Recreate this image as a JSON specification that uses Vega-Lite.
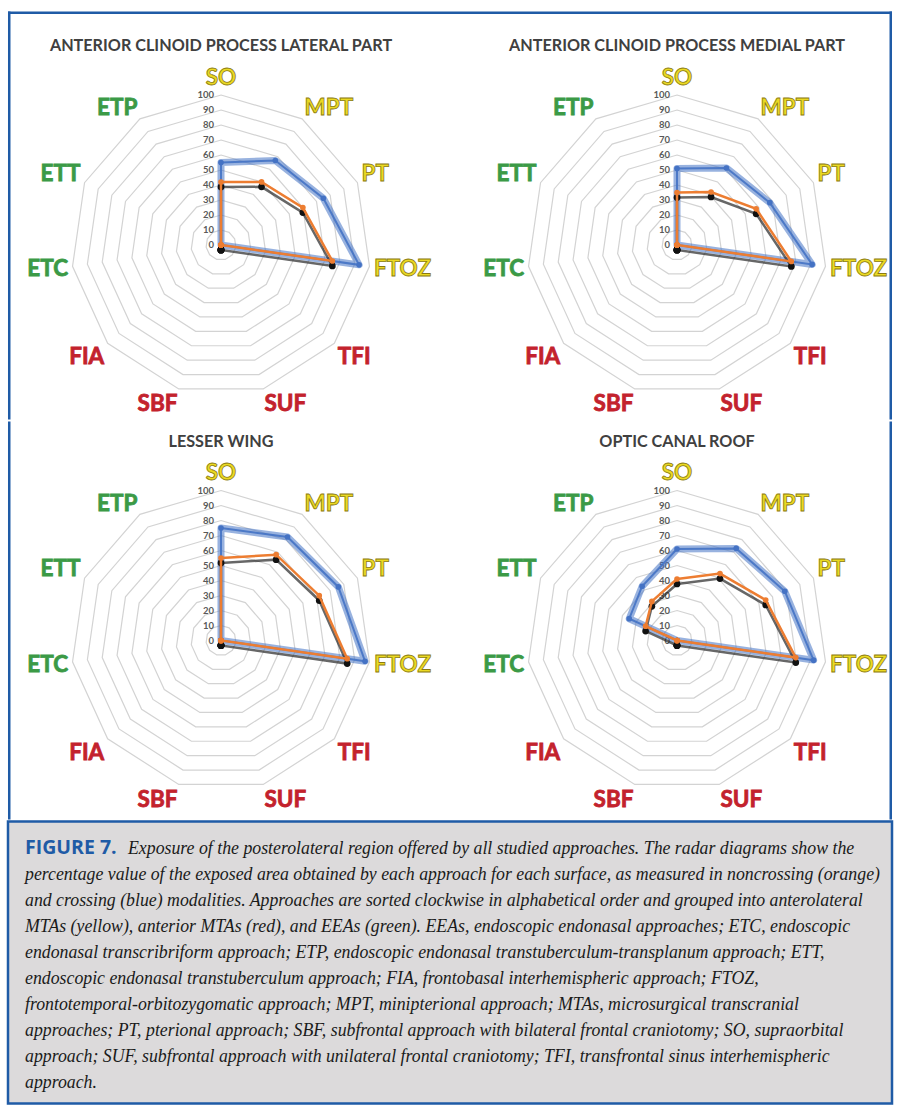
{
"$schema": "https://vega.github.io/schema/vega-lite/v6.json",
"padding": {"left": 6, "top": 9.5, "right": 1, "bottom": 0},
"background": "white",
"spacing": -5,
"config": {"view": {"stroke": null}},
"datasets": {
 "vals": [
  {"p":"L","c":"SO","nc":42,"cr":55},{"p":"L","c":"MPT","nc":50,"cr":67},{"p":"L","c":"PT","nc":60,"cr":75},{"p":"L","c":"FTOZ","nc":75,"cr":93},{"p":"L","c":"TFI","nc":0,"cr":0},{"p":"L","c":"SUF","nc":0,"cr":0},{"p":"L","c":"SBF","nc":0,"cr":0},{"p":"L","c":"FIA","nc":0,"cr":0},{"p":"L","c":"ETC","nc":0,"cr":0},{"p":"L","c":"ETT","nc":0,"cr":0},{"p":"L","c":"ETP","nc":0,"cr":0},
  {"p":"M","c":"SO","nc":35,"cr":51},{"p":"M","c":"MPT","nc":42,"cr":61},{"p":"M","c":"PT","nc":58,"cr":68},{"p":"M","c":"FTOZ","nc":77,"cr":91},{"p":"M","c":"TFI","nc":0,"cr":0},{"p":"M","c":"SUF","nc":0,"cr":0},{"p":"M","c":"SBF","nc":0,"cr":0},{"p":"M","c":"FIA","nc":0,"cr":0},{"p":"M","c":"ETC","nc":0,"cr":0},{"p":"M","c":"ETT","nc":0,"cr":0},{"p":"M","c":"ETP","nc":0,"cr":0},
  {"p":"W","c":"SO","nc":55,"cr":75},{"p":"W","c":"MPT","nc":68,"cr":82},{"p":"W","c":"PT","nc":72,"cr":86},{"p":"W","c":"FTOZ","nc":85,"cr":97},{"p":"W","c":"TFI","nc":0,"cr":0},{"p":"W","c":"SUF","nc":0,"cr":0},{"p":"W","c":"SBF","nc":0,"cr":0},{"p":"W","c":"FIA","nc":0,"cr":0},{"p":"W","c":"ETC","nc":0,"cr":0},{"p":"W","c":"ETT","nc":0,"cr":0},{"p":"W","c":"ETP","nc":0,"cr":0},
  {"p":"O","c":"SO","nc":41,"cr":61},{"p":"O","c":"MPT","nc":53,"cr":73},{"p":"O","c":"PT","nc":65,"cr":79},{"p":"O","c":"FTOZ","nc":80,"cr":92},{"p":"O","c":"TFI","nc":0,"cr":0},{"p":"O","c":"SUF","nc":0,"cr":0},{"p":"O","c":"SBF","nc":0,"cr":0},{"p":"O","c":"FIA","nc":0,"cr":0},{"p":"O","c":"ETC","nc":0,"cr":0},{"p":"O","c":"ETT","nc":23,"cr":35},{"p":"O","c":"ETP","nc":31,"cr":43}
 ],
 "cats": [
  {"c":"SO","g":"y"},{"c":"MPT","g":"y"},{"c":"PT","g":"y"},{"c":"FTOZ","g":"y"},{"c":"TFI","g":"r"},{"c":"SUF","g":"r"},{"c":"SBF","g":"r"},{"c":"FIA","g":"r"},{"c":"ETC","g":"g"},{"c":"ETT","g":"g"},{"c":"ETP","g":"g"}
 ],
 "grid": [
  {"lvl":10,"k":[0,1,2,3,4,5,6,7,8,9,10]},{"lvl":20,"k":[0,1,2,3,4,5,6,7,8,9,10]},{"lvl":30,"k":[0,1,2,3,4,5,6,7,8,9,10]},{"lvl":40,"k":[0,1,2,3,4,5,6,7,8,9,10]},{"lvl":50,"k":[0,1,2,3,4,5,6,7,8,9,10]},{"lvl":60,"k":[0,1,2,3,4,5,6,7,8,9,10]},{"lvl":70,"k":[0,1,2,3,4,5,6,7,8,9,10]},{"lvl":80,"k":[0,1,2,3,4,5,6,7,8,9,10]},{"lvl":90,"k":[0,1,2,3,4,5,6,7,8,9,10]},{"lvl":100,"k":[0,1,2,3,4,5,6,7,8,9,10]}
 ],
 "ticks": [{"t":0},{"t":10},{"t":20},{"t":30},{"t":40},{"t":50},{"t":60},{"t":70},{"t":80},{"t":90},{"t":100}],
 "titles": [
  {"p":"L","t":"ANTERIOR CLINOID PROCESS LATERAL PART"},
  {"p":"M","t":"ANTERIOR CLINOID PROCESS MEDIAL PART"},
  {"p":"W","t":"LESSER WING"},
  {"p":"O","t":"OPTIC CANAL ROOF"}
 ],
 "frame": [{"f":1}],
 "cap": [
  {"k":"f","ln":1,"t":"FIGURE 7."},
  {"k":"a","ln":1,"t":"Exposure of the posterolateral region offered by all studied approaches. The radar diagrams show the"},
  {"k":"b","ln":2,"t":"percentage value of the exposed area obtained by each approach for each surface, as measured in noncrossing (orange)"},
  {"k":"b","ln":3,"t":"and crossing (blue) modalities. Approaches are sorted clockwise in alphabetical order and grouped into anterolateral"},
  {"k":"b","ln":4,"t":"MTAs (yellow), anterior MTAs (red), and EEAs (green). EEAs, endoscopic endonasal approaches; ETC, endoscopic"},
  {"k":"b","ln":5,"t":"endonasal transcribriform approach; ETP, endoscopic endonasal transtuberculum-transplanum approach; ETT,"},
  {"k":"b","ln":6,"t":"endoscopic endonasal transtuberculum approach; FIA, frontobasal interhemispheric approach; FTOZ,"},
  {"k":"b","ln":7,"t":"frontotemporal-orbitozygomatic approach; MPT, minipterional approach; MTAs, microsurgical transcranial"},
  {"k":"b","ln":8,"t":"approaches; PT, pterional approach; SBF, subfrontal approach with bilateral frontal craniotomy; SO, supraorbital"},
  {"k":"b","ln":9,"t":"approach; SUF, subfrontal approach with unilateral frontal craniotomy; TFI, transfrontal sinus interhemispheric"},
  {"k":"b","ln":10,"t":"approach."}
 ]
},
"vconcat": [
 {"hconcat": [
  {"width": 442, "height": 408,
   "layer": [
    {"data":{"name":"grid"},"transform":[{"flatten":["k"]},{"calculate":"datum.lvl*sin(datum.k*2*PI/11)","as":"x"},{"calculate":"datum.lvl*cos(datum.k*2*PI/11)","as":"y"}],
     "mark":{"type":"line","interpolate":"linear-closed","stroke":"#d3d3d3","strokeWidth":1.2},
     "encoding":{"x":{"field":"x","type":"quantitative","scale":{"domain":[-142,152.67],"nice":false,"zero":false},"axis":null},"y":{"field":"y","type":"quantitative","scale":{"domain":[-116.33,155.67],"nice":false,"zero":false},"axis":null},"detail":{"field":"lvl"},"order":{"field":"k","type":"quantitative"}}},
    {"data":{"name":"ticks"},"mark":{"type":"text","align":"right","baseline":"middle","dx":-7,"font":"Lato","fontWeight":"bold","fontSize":9.5,"fill":"#595959"},
     "encoding":{"x":{"datum":0,"type":"quantitative","scale":{"domain":[-142,152.67],"nice":false,"zero":false},"axis":null},"y":{"field":"t","type":"quantitative","scale":{"domain":[-116.33,155.67],"nice":false,"zero":false},"axis":null},"text":{"field":"t"}}},
    {"data":{"name":"vals"},
     "transform":[{"filter":"datum.p==='L'"},{"fold":["cr","nc"],"as":["s","v"]},{"calculate":"indexof(['SO','MPT','PT','FTOZ','TFI','SUF','SBF','FIA','ETC','ETT','ETP'],datum.c)","as":"i"},{"calculate":"datum.v*sin(datum.i*2*PI/11)","as":"x"},{"calculate":"datum.v*cos(datum.i*2*PI/11)","as":"y"},{"calculate":"datum.y-3.3","as":"ys"}],
     "encoding":{"x":{"field":"x","type":"quantitative","scale":{"domain":[-142,152.67],"nice":false,"zero":false},"axis":null},"y":{"field":"y","type":"quantitative","scale":{"domain":[-116.33,155.67],"nice":false,"zero":false},"axis":null},"order":{"field":"i","type":"quantitative"}},
     "layer":[
      {"transform":[{"filter":"datum.s==='cr'"}],"mark":{"type":"line","interpolate":"linear-closed","stroke":"#4472c4","strokeWidth":7,"strokeOpacity":0.55,"strokeJoin":"round"}},
      {"transform":[{"filter":"datum.s==='cr'"}],"mark":{"type":"line","interpolate":"linear-closed","stroke":"#4472c4","strokeWidth":2,"strokeOpacity":0.9}},
      {"transform":[{"filter":"datum.s==='cr'"}],"mark":{"type":"point","filled":true,"color":"#4472c4","size":32,"opacity":1}},
      {"transform":[{"filter":"datum.s==='nc'"}],"mark":{"type":"line","interpolate":"linear-closed","stroke":"#262626","strokeWidth":2.5,"strokeOpacity":0.7},"encoding":{"y":{"field":"ys","type":"quantitative","scale":{"domain":[-116.33,155.67],"nice":false,"zero":false},"axis":null}}},
      {"transform":[{"filter":"datum.s==='nc'"}],"mark":{"type":"point","filled":true,"color":"#111111","size":45,"opacity":1},"encoding":{"y":{"field":"ys","type":"quantitative","scale":{"domain":[-116.33,155.67],"nice":false,"zero":false},"axis":null}}},
      {"transform":[{"filter":"datum.s==='nc'"}],"mark":{"type":"line","interpolate":"linear-closed","stroke":"#ed7d31","strokeWidth":2.5}},
      {"transform":[{"filter":"datum.s==='nc'"}],"mark":{"type":"point","filled":true,"color":"#ed7d31","size":32,"opacity":1}}
     ]},
    {"data":{"name":"cats"},"transform":[{"calculate":"indexof(['SO','MPT','PT','FTOZ','TFI','SUF','SBF','FIA','ETC','ETT','ETP'],datum.c)","as":"i"},{"calculate":"103*sin(datum.i*2*PI/11)","as":"x"},{"calculate":"103*cos(datum.i*2*PI/11)","as":"y"}],
     "encoding":{"x":{"field":"x","type":"quantitative","scale":{"domain":[-142,152.67],"nice":false,"zero":false},"axis":null},"y":{"field":"y","type":"quantitative","scale":{"domain":[-116.33,155.67],"nice":false,"zero":false},"axis":null},"text":{"field":"c"},
      "color":{"field":"g","type":"nominal","scale":{"domain":["y","r","g"],"range":["#ebd923","#c3222d","#3b9a46"]},"legend":null},
      "stroke":{"field":"g","type":"nominal","scale":{"domain":["y","r","g"],"range":["#8a7a10","#c3222d","#3b9a46"]},"legend":null}},
     "layer":[
      {"transform":[{"filter":"datum.i==0"}],"mark":{"type":"text","align":"center","baseline":"alphabetic","dy":-6,"font":"Lato","fontWeight":"bold","fontSize":22.5,"strokeWidth":0.8}},
      {"transform":[{"filter":"datum.i==1||datum.i==2"}],"mark":{"type":"text","align":"left","baseline":"alphabetic","font":"Lato","fontWeight":"bold","fontSize":22.5,"strokeWidth":0.8}},
      {"transform":[{"filter":"datum.i==3"}],"mark":{"type":"text","align":"left","baseline":"middle","dy":2.5,"font":"Lato","fontWeight":"bold","fontSize":22.5,"strokeWidth":0.8}},
      {"transform":[{"filter":"datum.i==4||datum.i==5"}],"mark":{"type":"text","align":"left","baseline":"top","font":"Lato","fontWeight":"bold","fontSize":22.5,"strokeWidth":0.8}},
      {"transform":[{"filter":"datum.i==6||datum.i==7"}],"mark":{"type":"text","align":"right","baseline":"top","font":"Lato","fontWeight":"bold","fontSize":22.5,"strokeWidth":0.8}},
      {"transform":[{"filter":"datum.i==8"}],"mark":{"type":"text","align":"right","baseline":"middle","dy":2.5,"font":"Lato","fontWeight":"bold","fontSize":22.5,"strokeWidth":0.8}},
      {"transform":[{"filter":"datum.i==9||datum.i==10"}],"mark":{"type":"text","align":"right","baseline":"alphabetic","font":"Lato","fontWeight":"bold","fontSize":22.5,"strokeWidth":0.8}}
     ]},
    {"data":{"name":"titles"},"transform":[{"filter":"datum.p==='L'"}],"mark":{"type":"text","align":"center","baseline":"middle","font":"Lato","fontWeight":"bold","fontSize":16.2,"fill":"#404040"},
     "encoding":{"x":{"datum":0,"type":"quantitative","scale":{"domain":[-142,152.67],"nice":false,"zero":false},"axis":null},"y":{"datum":132.5,"type":"quantitative","scale":{"domain":[-116.33,155.67],"nice":false,"zero":false},"axis":null},"text":{"field":"t"}}},
    {"data":{"name":"frame"},"mark":{"type":"rule","stroke":"#1f5ba6","strokeWidth":2.5},"encoding":{"x":{"datum":-141.17,"type":"quantitative","scale":{"domain":[-142,152.67],"nice":false,"zero":false},"axis":null}}},
    {"data":{"name":"frame"},"mark":{"type":"rule","stroke":"#1f5ba6","strokeWidth":2.5},"encoding":{"y":{"datum":154.84,"type":"quantitative","scale":{"domain":[-116.33,155.67],"nice":false,"zero":false},"axis":null}}}
   ]},
  {"width": 442, "height": 408,
   "layer": [
    {"data":{"name":"grid"},"transform":[{"flatten":["k"]},{"calculate":"datum.lvl*sin(datum.k*2*PI/11)","as":"x"},{"calculate":"datum.lvl*cos(datum.k*2*PI/11)","as":"y"}],
     "mark":{"type":"line","interpolate":"linear-closed","stroke":"#d3d3d3","strokeWidth":1.2},
     "encoding":{"x":{"field":"x","type":"quantitative","scale":{"domain":[-151.33,143.33],"nice":false,"zero":false},"axis":null},"y":{"field":"y","type":"quantitative","scale":{"domain":[-116.33,155.67],"nice":false,"zero":false},"axis":null},"detail":{"field":"lvl"},"order":{"field":"k","type":"quantitative"}}},
    {"data":{"name":"ticks"},"mark":{"type":"text","align":"right","baseline":"middle","dx":-7,"font":"Lato","fontWeight":"bold","fontSize":9.5,"fill":"#595959"},
     "encoding":{"x":{"datum":0,"type":"quantitative","scale":{"domain":[-151.33,143.33],"nice":false,"zero":false},"axis":null},"y":{"field":"t","type":"quantitative","scale":{"domain":[-116.33,155.67],"nice":false,"zero":false},"axis":null},"text":{"field":"t"}}},
    {"data":{"name":"vals"},
     "transform":[{"filter":"datum.p==='M'"},{"fold":["cr","nc"],"as":["s","v"]},{"calculate":"indexof(['SO','MPT','PT','FTOZ','TFI','SUF','SBF','FIA','ETC','ETT','ETP'],datum.c)","as":"i"},{"calculate":"datum.v*sin(datum.i*2*PI/11)","as":"x"},{"calculate":"datum.v*cos(datum.i*2*PI/11)","as":"y"},{"calculate":"datum.y-3.3","as":"ys"}],
     "encoding":{"x":{"field":"x","type":"quantitative","scale":{"domain":[-151.33,143.33],"nice":false,"zero":false},"axis":null},"y":{"field":"y","type":"quantitative","scale":{"domain":[-116.33,155.67],"nice":false,"zero":false},"axis":null},"order":{"field":"i","type":"quantitative"}},
     "layer":[
      {"transform":[{"filter":"datum.s==='cr'"}],"mark":{"type":"line","interpolate":"linear-closed","stroke":"#4472c4","strokeWidth":7,"strokeOpacity":0.55,"strokeJoin":"round"}},
      {"transform":[{"filter":"datum.s==='cr'"}],"mark":{"type":"line","interpolate":"linear-closed","stroke":"#4472c4","strokeWidth":2,"strokeOpacity":0.9}},
      {"transform":[{"filter":"datum.s==='cr'"}],"mark":{"type":"point","filled":true,"color":"#4472c4","size":32,"opacity":1}},
      {"transform":[{"filter":"datum.s==='nc'"}],"mark":{"type":"line","interpolate":"linear-closed","stroke":"#262626","strokeWidth":2.5,"strokeOpacity":0.7},"encoding":{"y":{"field":"ys","type":"quantitative","scale":{"domain":[-116.33,155.67],"nice":false,"zero":false},"axis":null}}},
      {"transform":[{"filter":"datum.s==='nc'"}],"mark":{"type":"point","filled":true,"color":"#111111","size":45,"opacity":1},"encoding":{"y":{"field":"ys","type":"quantitative","scale":{"domain":[-116.33,155.67],"nice":false,"zero":false},"axis":null}}},
      {"transform":[{"filter":"datum.s==='nc'"}],"mark":{"type":"line","interpolate":"linear-closed","stroke":"#ed7d31","strokeWidth":2.5}},
      {"transform":[{"filter":"datum.s==='nc'"}],"mark":{"type":"point","filled":true,"color":"#ed7d31","size":32,"opacity":1}}
     ]},
    {"data":{"name":"cats"},"transform":[{"calculate":"indexof(['SO','MPT','PT','FTOZ','TFI','SUF','SBF','FIA','ETC','ETT','ETP'],datum.c)","as":"i"},{"calculate":"103*sin(datum.i*2*PI/11)","as":"x"},{"calculate":"103*cos(datum.i*2*PI/11)","as":"y"}],
     "encoding":{"x":{"field":"x","type":"quantitative","scale":{"domain":[-151.33,143.33],"nice":false,"zero":false},"axis":null},"y":{"field":"y","type":"quantitative","scale":{"domain":[-116.33,155.67],"nice":false,"zero":false},"axis":null},"text":{"field":"c"},
      "color":{"field":"g","type":"nominal","scale":{"domain":["y","r","g"],"range":["#ebd923","#c3222d","#3b9a46"]},"legend":null},
      "stroke":{"field":"g","type":"nominal","scale":{"domain":["y","r","g"],"range":["#8a7a10","#c3222d","#3b9a46"]},"legend":null}},
     "layer":[
      {"transform":[{"filter":"datum.i==0"}],"mark":{"type":"text","align":"center","baseline":"alphabetic","dy":-6,"font":"Lato","fontWeight":"bold","fontSize":22.5,"strokeWidth":0.8}},
      {"transform":[{"filter":"datum.i==1||datum.i==2"}],"mark":{"type":"text","align":"left","baseline":"alphabetic","font":"Lato","fontWeight":"bold","fontSize":22.5,"strokeWidth":0.8}},
      {"transform":[{"filter":"datum.i==3"}],"mark":{"type":"text","align":"left","baseline":"middle","dy":2.5,"font":"Lato","fontWeight":"bold","fontSize":22.5,"strokeWidth":0.8}},
      {"transform":[{"filter":"datum.i==4||datum.i==5"}],"mark":{"type":"text","align":"left","baseline":"top","font":"Lato","fontWeight":"bold","fontSize":22.5,"strokeWidth":0.8}},
      {"transform":[{"filter":"datum.i==6||datum.i==7"}],"mark":{"type":"text","align":"right","baseline":"top","font":"Lato","fontWeight":"bold","fontSize":22.5,"strokeWidth":0.8}},
      {"transform":[{"filter":"datum.i==8"}],"mark":{"type":"text","align":"right","baseline":"middle","dy":2.5,"font":"Lato","fontWeight":"bold","fontSize":22.5,"strokeWidth":0.8}},
      {"transform":[{"filter":"datum.i==9||datum.i==10"}],"mark":{"type":"text","align":"right","baseline":"alphabetic","font":"Lato","fontWeight":"bold","fontSize":22.5,"strokeWidth":0.8}}
     ]},
    {"data":{"name":"titles"},"transform":[{"filter":"datum.p==='M'"}],"mark":{"type":"text","align":"center","baseline":"middle","font":"Lato","fontWeight":"bold","fontSize":16.2,"fill":"#404040"},
     "encoding":{"x":{"datum":0,"type":"quantitative","scale":{"domain":[-151.33,143.33],"nice":false,"zero":false},"axis":null},"y":{"datum":132.5,"type":"quantitative","scale":{"domain":[-116.33,155.67],"nice":false,"zero":false},"axis":null},"text":{"field":"t"}}},
    {"data":{"name":"frame"},"mark":{"type":"rule","stroke":"#1f5ba6","strokeWidth":2.5},"encoding":{"x":{"datum":142.5,"type":"quantitative","scale":{"domain":[-151.33,143.33],"nice":false,"zero":false},"axis":null}}},
    {"data":{"name":"frame"},"mark":{"type":"rule","stroke":"#1f5ba6","strokeWidth":2.5},"encoding":{"y":{"datum":154.84,"type":"quantitative","scale":{"domain":[-116.33,155.67],"nice":false,"zero":false},"axis":null}}}
   ]}
 ], "bounds": "flush", "spacing": 0},
 {"hconcat": [
  {"width": 442, "height": 398,
   "layer": [
    {"data":{"name":"grid"},"transform":[{"flatten":["k"]},{"calculate":"datum.lvl*sin(datum.k*2*PI/11)","as":"x"},{"calculate":"datum.lvl*cos(datum.k*2*PI/11)","as":"y"}],
     "mark":{"type":"line","interpolate":"linear-closed","stroke":"#d3d3d3","strokeWidth":1.2},
     "encoding":{"x":{"field":"x","type":"quantitative","scale":{"domain":[-142,152.67],"nice":false,"zero":false},"axis":null},"y":{"field":"y","type":"quantitative","scale":{"domain":[-119.33,146],"nice":false,"zero":false},"axis":null},"detail":{"field":"lvl"},"order":{"field":"k","type":"quantitative"}}},
    {"data":{"name":"ticks"},"mark":{"type":"text","align":"right","baseline":"middle","dx":-7,"font":"Lato","fontWeight":"bold","fontSize":9.5,"fill":"#595959"},
     "encoding":{"x":{"datum":0,"type":"quantitative","scale":{"domain":[-142,152.67],"nice":false,"zero":false},"axis":null},"y":{"field":"t","type":"quantitative","scale":{"domain":[-119.33,146],"nice":false,"zero":false},"axis":null},"text":{"field":"t"}}},
    {"data":{"name":"vals"},
     "transform":[{"filter":"datum.p==='W'"},{"fold":["cr","nc"],"as":["s","v"]},{"calculate":"indexof(['SO','MPT','PT','FTOZ','TFI','SUF','SBF','FIA','ETC','ETT','ETP'],datum.c)","as":"i"},{"calculate":"datum.v*sin(datum.i*2*PI/11)","as":"x"},{"calculate":"datum.v*cos(datum.i*2*PI/11)","as":"y"},{"calculate":"datum.y-3.3","as":"ys"}],
     "encoding":{"x":{"field":"x","type":"quantitative","scale":{"domain":[-142,152.67],"nice":false,"zero":false},"axis":null},"y":{"field":"y","type":"quantitative","scale":{"domain":[-119.33,146],"nice":false,"zero":false},"axis":null},"order":{"field":"i","type":"quantitative"}},
     "layer":[
      {"transform":[{"filter":"datum.s==='cr'"}],"mark":{"type":"line","interpolate":"linear-closed","stroke":"#4472c4","strokeWidth":7,"strokeOpacity":0.55,"strokeJoin":"round"}},
      {"transform":[{"filter":"datum.s==='cr'"}],"mark":{"type":"line","interpolate":"linear-closed","stroke":"#4472c4","strokeWidth":2,"strokeOpacity":0.9}},
      {"transform":[{"filter":"datum.s==='cr'"}],"mark":{"type":"point","filled":true,"color":"#4472c4","size":32,"opacity":1}},
      {"transform":[{"filter":"datum.s==='nc'"}],"mark":{"type":"line","interpolate":"linear-closed","stroke":"#262626","strokeWidth":2.5,"strokeOpacity":0.7},"encoding":{"y":{"field":"ys","type":"quantitative","scale":{"domain":[-119.33,146],"nice":false,"zero":false},"axis":null}}},
      {"transform":[{"filter":"datum.s==='nc'"}],"mark":{"type":"point","filled":true,"color":"#111111","size":45,"opacity":1},"encoding":{"y":{"field":"ys","type":"quantitative","scale":{"domain":[-119.33,146],"nice":false,"zero":false},"axis":null}}},
      {"transform":[{"filter":"datum.s==='nc'"}],"mark":{"type":"line","interpolate":"linear-closed","stroke":"#ed7d31","strokeWidth":2.5}},
      {"transform":[{"filter":"datum.s==='nc'"}],"mark":{"type":"point","filled":true,"color":"#ed7d31","size":32,"opacity":1}}
     ]},
    {"data":{"name":"cats"},"transform":[{"calculate":"indexof(['SO','MPT','PT','FTOZ','TFI','SUF','SBF','FIA','ETC','ETT','ETP'],datum.c)","as":"i"},{"calculate":"103*sin(datum.i*2*PI/11)","as":"x"},{"calculate":"103*cos(datum.i*2*PI/11)","as":"y"}],
     "encoding":{"x":{"field":"x","type":"quantitative","scale":{"domain":[-142,152.67],"nice":false,"zero":false},"axis":null},"y":{"field":"y","type":"quantitative","scale":{"domain":[-119.33,146],"nice":false,"zero":false},"axis":null},"text":{"field":"c"},
      "color":{"field":"g","type":"nominal","scale":{"domain":["y","r","g"],"range":["#ebd923","#c3222d","#3b9a46"]},"legend":null},
      "stroke":{"field":"g","type":"nominal","scale":{"domain":["y","r","g"],"range":["#8a7a10","#c3222d","#3b9a46"]},"legend":null}},
     "layer":[
      {"transform":[{"filter":"datum.i==0"}],"mark":{"type":"text","align":"center","baseline":"alphabetic","dy":-6,"font":"Lato","fontWeight":"bold","fontSize":22.5,"strokeWidth":0.8}},
      {"transform":[{"filter":"datum.i==1||datum.i==2"}],"mark":{"type":"text","align":"left","baseline":"alphabetic","font":"Lato","fontWeight":"bold","fontSize":22.5,"strokeWidth":0.8}},
      {"transform":[{"filter":"datum.i==3"}],"mark":{"type":"text","align":"left","baseline":"middle","dy":2.5,"font":"Lato","fontWeight":"bold","fontSize":22.5,"strokeWidth":0.8}},
      {"transform":[{"filter":"datum.i==4||datum.i==5"}],"mark":{"type":"text","align":"left","baseline":"top","font":"Lato","fontWeight":"bold","fontSize":22.5,"strokeWidth":0.8}},
      {"transform":[{"filter":"datum.i==6||datum.i==7"}],"mark":{"type":"text","align":"right","baseline":"top","font":"Lato","fontWeight":"bold","fontSize":22.5,"strokeWidth":0.8}},
      {"transform":[{"filter":"datum.i==8"}],"mark":{"type":"text","align":"right","baseline":"middle","dy":2.5,"font":"Lato","fontWeight":"bold","fontSize":22.5,"strokeWidth":0.8}},
      {"transform":[{"filter":"datum.i==9||datum.i==10"}],"mark":{"type":"text","align":"right","baseline":"alphabetic","font":"Lato","fontWeight":"bold","fontSize":22.5,"strokeWidth":0.8}}
     ]},
    {"data":{"name":"titles"},"transform":[{"filter":"datum.p==='W'"}],"mark":{"type":"text","align":"center","baseline":"middle","font":"Lato","fontWeight":"bold","fontSize":16.2,"fill":"#404040"},
     "encoding":{"x":{"datum":0,"type":"quantitative","scale":{"domain":[-142,152.67],"nice":false,"zero":false},"axis":null},"y":{"datum":132.5,"type":"quantitative","scale":{"domain":[-119.33,146],"nice":false,"zero":false},"axis":null},"text":{"field":"t"}}},
    {"data":{"name":"frame"},"mark":{"type":"rule","stroke":"#1f5ba6","strokeWidth":2.5},"encoding":{"x":{"datum":-141.17,"type":"quantitative","scale":{"domain":[-142,152.67],"nice":false,"zero":false},"axis":null}}}
   ]},
  {"width": 442, "height": 398,
   "layer": [
    {"data":{"name":"grid"},"transform":[{"flatten":["k"]},{"calculate":"datum.lvl*sin(datum.k*2*PI/11)","as":"x"},{"calculate":"datum.lvl*cos(datum.k*2*PI/11)","as":"y"}],
     "mark":{"type":"line","interpolate":"linear-closed","stroke":"#d3d3d3","strokeWidth":1.2},
     "encoding":{"x":{"field":"x","type":"quantitative","scale":{"domain":[-151.33,143.33],"nice":false,"zero":false},"axis":null},"y":{"field":"y","type":"quantitative","scale":{"domain":[-119.33,146],"nice":false,"zero":false},"axis":null},"detail":{"field":"lvl"},"order":{"field":"k","type":"quantitative"}}},
    {"data":{"name":"ticks"},"mark":{"type":"text","align":"right","baseline":"middle","dx":-7,"font":"Lato","fontWeight":"bold","fontSize":9.5,"fill":"#595959"},
     "encoding":{"x":{"datum":0,"type":"quantitative","scale":{"domain":[-151.33,143.33],"nice":false,"zero":false},"axis":null},"y":{"field":"t","type":"quantitative","scale":{"domain":[-119.33,146],"nice":false,"zero":false},"axis":null},"text":{"field":"t"}}},
    {"data":{"name":"vals"},
     "transform":[{"filter":"datum.p==='O'"},{"fold":["cr","nc"],"as":["s","v"]},{"calculate":"indexof(['SO','MPT','PT','FTOZ','TFI','SUF','SBF','FIA','ETC','ETT','ETP'],datum.c)","as":"i"},{"calculate":"datum.v*sin(datum.i*2*PI/11)","as":"x"},{"calculate":"datum.v*cos(datum.i*2*PI/11)","as":"y"},{"calculate":"datum.y-3.3","as":"ys"}],
     "encoding":{"x":{"field":"x","type":"quantitative","scale":{"domain":[-151.33,143.33],"nice":false,"zero":false},"axis":null},"y":{"field":"y","type":"quantitative","scale":{"domain":[-119.33,146],"nice":false,"zero":false},"axis":null},"order":{"field":"i","type":"quantitative"}},
     "layer":[
      {"transform":[{"filter":"datum.s==='cr'"}],"mark":{"type":"line","interpolate":"linear-closed","stroke":"#4472c4","strokeWidth":7,"strokeOpacity":0.55,"strokeJoin":"round"}},
      {"transform":[{"filter":"datum.s==='cr'"}],"mark":{"type":"line","interpolate":"linear-closed","stroke":"#4472c4","strokeWidth":2,"strokeOpacity":0.9}},
      {"transform":[{"filter":"datum.s==='cr'"}],"mark":{"type":"point","filled":true,"color":"#4472c4","size":32,"opacity":1}},
      {"transform":[{"filter":"datum.s==='nc'"}],"mark":{"type":"line","interpolate":"linear-closed","stroke":"#262626","strokeWidth":2.5,"strokeOpacity":0.7},"encoding":{"y":{"field":"ys","type":"quantitative","scale":{"domain":[-119.33,146],"nice":false,"zero":false},"axis":null}}},
      {"transform":[{"filter":"datum.s==='nc'"}],"mark":{"type":"point","filled":true,"color":"#111111","size":45,"opacity":1},"encoding":{"y":{"field":"ys","type":"quantitative","scale":{"domain":[-119.33,146],"nice":false,"zero":false},"axis":null}}},
      {"transform":[{"filter":"datum.s==='nc'"}],"mark":{"type":"line","interpolate":"linear-closed","stroke":"#ed7d31","strokeWidth":2.5}},
      {"transform":[{"filter":"datum.s==='nc'"}],"mark":{"type":"point","filled":true,"color":"#ed7d31","size":32,"opacity":1}}
     ]},
    {"data":{"name":"cats"},"transform":[{"calculate":"indexof(['SO','MPT','PT','FTOZ','TFI','SUF','SBF','FIA','ETC','ETT','ETP'],datum.c)","as":"i"},{"calculate":"103*sin(datum.i*2*PI/11)","as":"x"},{"calculate":"103*cos(datum.i*2*PI/11)","as":"y"}],
     "encoding":{"x":{"field":"x","type":"quantitative","scale":{"domain":[-151.33,143.33],"nice":false,"zero":false},"axis":null},"y":{"field":"y","type":"quantitative","scale":{"domain":[-119.33,146],"nice":false,"zero":false},"axis":null},"text":{"field":"c"},
      "color":{"field":"g","type":"nominal","scale":{"domain":["y","r","g"],"range":["#ebd923","#c3222d","#3b9a46"]},"legend":null},
      "stroke":{"field":"g","type":"nominal","scale":{"domain":["y","r","g"],"range":["#8a7a10","#c3222d","#3b9a46"]},"legend":null}},
     "layer":[
      {"transform":[{"filter":"datum.i==0"}],"mark":{"type":"text","align":"center","baseline":"alphabetic","dy":-6,"font":"Lato","fontWeight":"bold","fontSize":22.5,"strokeWidth":0.8}},
      {"transform":[{"filter":"datum.i==1||datum.i==2"}],"mark":{"type":"text","align":"left","baseline":"alphabetic","font":"Lato","fontWeight":"bold","fontSize":22.5,"strokeWidth":0.8}},
      {"transform":[{"filter":"datum.i==3"}],"mark":{"type":"text","align":"left","baseline":"middle","dy":2.5,"font":"Lato","fontWeight":"bold","fontSize":22.5,"strokeWidth":0.8}},
      {"transform":[{"filter":"datum.i==4||datum.i==5"}],"mark":{"type":"text","align":"left","baseline":"top","font":"Lato","fontWeight":"bold","fontSize":22.5,"strokeWidth":0.8}},
      {"transform":[{"filter":"datum.i==6||datum.i==7"}],"mark":{"type":"text","align":"right","baseline":"top","font":"Lato","fontWeight":"bold","fontSize":22.5,"strokeWidth":0.8}},
      {"transform":[{"filter":"datum.i==8"}],"mark":{"type":"text","align":"right","baseline":"middle","dy":2.5,"font":"Lato","fontWeight":"bold","fontSize":22.5,"strokeWidth":0.8}},
      {"transform":[{"filter":"datum.i==9||datum.i==10"}],"mark":{"type":"text","align":"right","baseline":"alphabetic","font":"Lato","fontWeight":"bold","fontSize":22.5,"strokeWidth":0.8}}
     ]},
    {"data":{"name":"titles"},"transform":[{"filter":"datum.p==='O'"}],"mark":{"type":"text","align":"center","baseline":"middle","font":"Lato","fontWeight":"bold","fontSize":16.2,"fill":"#404040"},
     "encoding":{"x":{"datum":0,"type":"quantitative","scale":{"domain":[-151.33,143.33],"nice":false,"zero":false},"axis":null},"y":{"datum":132.5,"type":"quantitative","scale":{"domain":[-119.33,146],"nice":false,"zero":false},"axis":null},"text":{"field":"t"}}},
    {"data":{"name":"frame"},"mark":{"type":"rule","stroke":"#1f5ba6","strokeWidth":2.5},"encoding":{"x":{"datum":142.5,"type":"quantitative","scale":{"domain":[-151.33,143.33],"nice":false,"zero":false},"axis":null}}}
   ]}
 ], "bounds": "flush", "spacing": 0},
 {"width": 884, "height": 282,
  "view": {"fill": "#dcdadb", "stroke": "#1f5ba6", "strokeWidth": 2.5},
  "data": {"name": "cap"},
  "layer": [
   {"transform":[{"filter":"datum.k==='f'"}],"mark":{"type":"text","align":"left","baseline":"alphabetic","dx":17,"font":"Open Sans","fontWeight":"bold","fontSize":19.5,"fill":"#1f5ba6"},
    "encoding":{"x":{"datum":0,"type":"quantitative","scale":{"domain":[0,1],"nice":false,"zero":false},"axis":null},"y":{"field":"ln","type":"quantitative","scale":{"domain":[-0.274,10.614],"reverse":true,"nice":false,"zero":false},"axis":null},"text":{"field":"t"}}},
   {"transform":[{"filter":"datum.k==='a'"}],"mark":{"type":"text","align":"left","baseline":"alphabetic","dx":120,"font":"Liberation Serif","fontStyle":"italic","fontSize":17.8,"fill":"#1a1a1a"},
    "encoding":{"x":{"datum":0,"type":"quantitative","scale":{"domain":[0,1],"nice":false,"zero":false},"axis":null},"y":{"field":"ln","type":"quantitative","scale":{"domain":[-0.274,10.614],"reverse":true,"nice":false,"zero":false},"axis":null},"text":{"field":"t"}}},
   {"transform":[{"filter":"datum.k==='b'"}],"mark":{"type":"text","align":"left","baseline":"alphabetic","dx":17,"font":"Liberation Serif","fontStyle":"italic","fontSize":17.8,"fill":"#1a1a1a"},
    "encoding":{"x":{"datum":0,"type":"quantitative","scale":{"domain":[0,1],"nice":false,"zero":false},"axis":null},"y":{"field":"ln","type":"quantitative","scale":{"domain":[-0.274,10.614],"reverse":true,"nice":false,"zero":false},"axis":null},"text":{"field":"t"}}}
  ]}
]
}
